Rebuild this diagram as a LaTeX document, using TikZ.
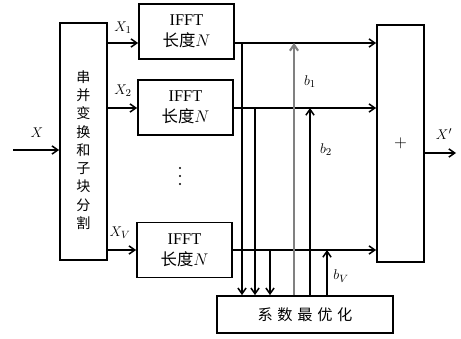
\documentclass[tikz,border=0pt]{standalone}
\usepackage{fontspec}
\setmainfont{Liberation Serif}
\newfontfamily\cjk{Noto Sans CJK SC}
\usetikzlibrary{arrows.meta}

\begin{document}
\begin{tikzpicture}[x=0.03cm, y=-0.03cm, line width=1.3pt,
    >={Straight Barb[length=5pt,width=7pt]},
    box/.style={draw, line width=1.5pt, inner sep=0pt, align=center},
    ifftbox/.style={box, minimum width=2.85cm, minimum height=1.65cm, font=\fontsize{14}{18}\selectfont},
    tallbox/.style={box, minimum width=1.41cm, minimum height=7.11cm},
    lab/.style={font=\fontsize{13}{15}\selectfont, inner sep=1pt}]
    \useasboundingbox (0,0) rectangle (461,338);

    % 方框
    \node[tallbox] (sp) at (83.5,141.5) {};
    \node[font=\cjk\fontsize{12}{15.6}\selectfont, align=center] (sptxt) at (83.5,150)
        {串\\并\\变\\换\\和\\子\\块\\分\\割};
    \node[ifftbox] (ifft1) at (186.5,31.5) {IFFT\\{\cjk 长度}$N$};
    \node[ifftbox] (ifft2) at (185.5,107.5) {IFFT\\{\cjk 长度}$N$};
    \node[ifftbox] (ifftv) at (184.5,250) {IFFT\\{\cjk 长度}$N$};
    \foreach \y in {168,176,184}
        \fill (180,\y) circle (1.1);
    \node[tallbox, font=\Large] (sum) at (400.5,143.5) {$+$};
    \node[box, minimum width=5.28cm, minimum height=1.11cm, font=\cjk\fontsize{13}{15}\selectfont] (opt) at (305,314.5)
        {系\hspace{4pt}数\hspace{4pt}最\hspace{4pt}优\hspace{4pt}化};

    % 各路所在的行
    \coordinate (r1) at (0,43);
    \coordinate (r2) at (0,108);
    \coordinate (rv) at (0,250);

    % 输入
    \coordinate (in) at (13,150);
    \draw[->] (in) -- (sp.west |- in);
    \node[lab] (xin) at (37,133) {$X$};

    % 子块送入 IFFT
    \draw[->] (sp.east |- r1) -- (ifft1.west |- r1);
    \draw[->] (sp.east |- r2) -- (ifft2.west |- r2);
    \draw[->] (sp.east |- rv) -- (ifftv.west |- rv);
    \node[lab] (x1) at (123,28) {$X_1$};
    \node[lab] (x2) at (123,91) {$X_2$};
    \node[lab] (xv) at (120,233) {$X_V$};

    % IFFT 输出到求和
    \draw[->] (ifft1.east |- r1) -- (sum.west |- r1);
    \draw[->] (ifft2.east |- r2) -- (sum.west |- r2);
    \draw[->] (ifftv.east |- rv) -- (sum.west |- rv);

    % 送往系数最优化
    \coordinate (d1) at (242,43);
    \coordinate (d2) at (255,108);
    \coordinate (dv) at (270,250);
    \draw[->] (d1) -- (d1 |- opt.north);
    \draw[->] (d2) -- (d2 |- opt.north);
    \draw[->] (dv) -- (dv |- opt.north);

    % 系数 b 返回
    \coordinate (u1) at (294,43);
    \coordinate (u2) at (310,108);
    \coordinate (uv) at (327,250);
    \draw[->, gray, line width=1.8pt] (u1 |- opt.north) -- (u1);
    \draw[->] (u2 |- opt.north) -- (u2);
    \draw[->] (uv |- opt.north) -- (uv);
    \node[lab] (b1) at (310,82) {$b_1$};
    \node[lab] (b2) at (326,150) {$b_2$};
    \node[lab] (bv) at (341,276) {$b_V$};

    % 输出
    \coordinate (out) at (456,153);
    \draw[->] (sum.east |- out) -- (out);
    \node[lab] (xout) at (444,134) {$X'$};
\end{tikzpicture}
\end{document}
